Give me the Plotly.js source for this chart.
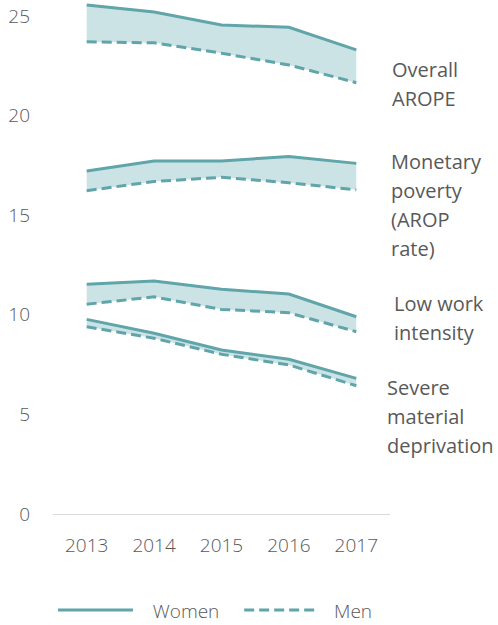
<!DOCTYPE html>
<html>
<head>
<meta charset="utf-8">
<script src="https://cdn.plot.ly/plotly-3.0.1.min.js"></script>
<style>html,body{margin:0;padding:0;background:#fff;}#chart{width:498px;height:625px;}</style>
</head>
<body>
<div id="chart"></div>
<script>
var years = ['2013', '2014', '2015', '2016', '2017'];

var aropeWomen = [25.55, 25.2, 24.55, 24.43, 23.3];
var aropeMen = [23.7, 23.65, 23.13, 22.54, 21.65];

var monetaryWomen = [17.22, 17.72, 17.72, 17.94, 17.6];
var monetaryMen = [16.23, 16.69, 16.9, 16.63, 16.27];

var lowWorkWomen = [11.53, 11.7, 11.28, 11.04, 9.9];
var lowWorkMen = [10.53, 10.9, 10.27, 10.1, 9.15];

var severeWomen = [9.77, 9.07, 8.23, 7.77, 6.81];
var severeMen = [9.4, 8.82, 8.02, 7.48, 6.44];

var groupLabels = [
  ['Overall', 'AROPE'],
  ['Monetary', 'poverty', '(AROP', 'rate)'],
  ['Low work', 'intensity'],
  ['Severe', 'material', 'deprivation']
];
var labelY = [22.29, 17.67, 10.59, 6.33];
var labelShiftX = [0, -1, 2, -5];

var yTicks = [0, 5, 10, 15, 20, 25];

var lineColor = '#5fa5aa';
var fillColor = 'rgba(200,225,228,0.95)';
var textColor = '#595959';
var FONT = '"Open Sans", Lato, sans-serif';

var groups = [
  [aropeMen, aropeWomen],
  [monetaryMen, monetaryWomen],
  [lowWorkMen, lowWorkWomen],
  [severeMen, severeWomen]
];

var traces = [];
groups.forEach(function (g, i) {
  traces.push({
    x: years, y: g[0], type: 'scatter', mode: 'lines',
    line: {color: lineColor, width: 3, dash: '10px,5px'},
    name: 'Men', legendgroup: 'men', showlegend: false,
    hoverinfo: 'skip'
  });
  traces.push({
    x: years, y: g[1], type: 'scatter', mode: 'lines',
    line: {color: lineColor, width: 3},
    fill: 'tonexty', fillcolor: fillColor,
    name: 'Women', legendgroup: 'women', showlegend: false,
    hoverinfo: 'skip'
  });
});
// legend entries
traces.push({x: [null], y: [null], type: 'scatter', mode: 'lines',
  line: {color: lineColor, width: 3}, name: '\u00a0\u00a0\u00a0Women\u00a0\u00a0\u00a0', showlegend: true});
traces.push({x: [null], y: [null], type: 'scatter', mode: 'lines',
  line: {color: lineColor, width: 3, dash: '10px,5px'}, name: '\u00a0\u00a0Men', showlegend: true});

var annotations = [];
groupLabels.forEach(function (lines, i) {
  lines.forEach(function (t, j) {
    annotations.push({
      xref: 'paper', yref: 'y', x: 1, y: labelY[i],
      xanchor: 'left', yanchor: 'middle',
      xshift: labelShiftX[i], yshift: -29 * j,
      text: t, showarrow: false,
      font: {family: FONT, size: 20, color: textColor, weight: 400}
    });
  });
});

var layout = {
  width: 498, height: 625,
  margin: {l: 53, r: 108, t: 2, b: 111, autoexpand: false},
  paper_bgcolor: '#fff', plot_bgcolor: '#fff',
  showlegend: true,
  legend: {
    orientation: 'h', x: 0.0, xanchor: 'left', y: -0.188, yanchor: 'middle',
    font: {family: FONT, size: 19, color: textColor, weight: 300},
    itemwidth: 75, traceorder: 'normal', bgcolor: 'rgba(0,0,0,0)'
  },
  xaxis: {
    type: 'category', range: [-0.5, 4.5],
    showgrid: false, zeroline: false,
    showline: false, ticks: '',
    tickfont: {family: FONT, size: 19, color: textColor, weight: 300},
    ticklabelstandoff: 18, fixedrange: true
  },
  yaxis: {
    range: [0, 25.7], tickvals: yTicks,
    showgrid: false, zeroline: true, zerolinecolor: '#d9d9d9', zerolinewidth: 1,
    showline: false, ticks: '',
    tickfont: {family: FONT, size: 19, color: textColor, weight: 300},
    ticklabelstandoff: 22, fixedrange: true
  },
  annotations: annotations,
  font: {family: FONT, color: textColor}
};

Plotly.newPlot('chart', traces, layout, {staticPlot: true, displayModeBar: false});
</script>
</body>
</html>
